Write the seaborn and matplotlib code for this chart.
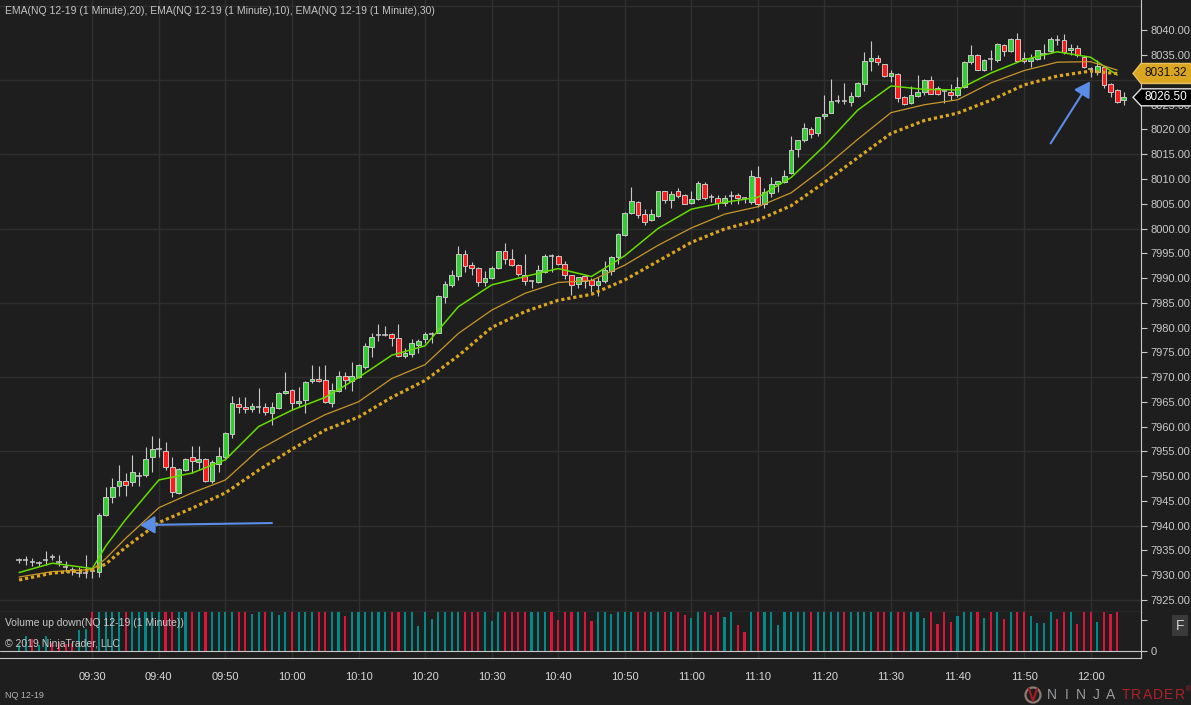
import numpy as np
import matplotlib
matplotlib.use("Agg")
import matplotlib.pyplot as plt
import matplotlib.transforms as mtransforms
from matplotlib.patches import Polygon, Circle
from matplotlib.lines import Line2D
import seaborn as sns

# NQ 12-19, 1 minute bars. x = minutes after 09:30, first bar is 09:19
first_minute = -11

opens = [
    7933.0, 7933.0, 7932.6, 7932.4, 7933.0, 7933.6, 7932.6, 7931.6, 7931.1, 7930.5,
    7930.5, 7930.9, 7930.7, 7942.2, 7945.7, 7947.9, 7948.9, 7948.7, 7950.0, 7950.2,
    7953.8, 7955.5, 7955.1, 7951.9, 7946.5, 7951.2, 7953.8, 7952.8, 7953.4, 7948.9,
    7952.4, 7953.9, 7958.5, 7964.6, 7964.0, 7963.6, 7963.9, 7963.9, 7962.8, 7963.7,
    7966.7, 7967.4, 7964.7, 7965.4, 7969.1, 7969.6, 7969.4, 7964.7, 7967.2, 7970.2,
    7969.1, 7970.1, 7972.1, 7976.1, 7978.5, 7978.4, 7978.7, 7977.8, 7974.2, 7974.6,
    7976.5, 7977.6, 7978.7, 7978.9, 7986.2, 7988.6, 7990.4, 7994.9, 7992.6, 7992.1,
    7989.1, 7990.1, 7992.1, 7995.4, 7993.9, 7992.7, 7990.6, 7989.4, 7989.2, 7991.2,
    7994.5, 7994.5, 7992.9, 7990.6, 7988.8, 7990.4, 7989.6, 7988.5, 7989.4, 7991.5,
    7994.3, 7998.6, 8003.2, 8005.4, 8002.9, 8001.8, 8002.5, 8007.5, 8005.7, 8007.5,
    8006.7, 8005.2, 8006.0, 8008.9, 8006.3, 8006.2, 8005.2, 8006.6, 8006.7, 8006.1,
    8005.4, 8010.5, 8005.0, 8007.2, 8008.9, 8009.4, 8011.2, 8016.1, 8017.8, 8020.2,
    8019.2, 8022.7, 8023.4, 8025.7, 8025.8, 8025.5, 8026.8, 8029.1, 8033.9, 8034.5,
    8033.3, 8030.9, 8031.3, 8026.6, 8025.3, 8026.7, 8027.6, 8030.0, 8028.4, 8027.7,
    8027.6, 8026.9, 8028.6, 8033.6, 8035.0, 8032.1, 8034.2, 8034.1, 8037.1, 8035.8,
    8038.3, 8034.5, 8033.8, 8034.3, 8035.2, 8035.8, 8038.1, 8038.1, 8036.0, 8036.5,
    8034.6, 8032.2, 8031.6, 8032.6, 8029.1, 8028.0, 8025.9]

highs = [
    7933.5, 7933.9, 7933.4, 7932.9, 7934.9, 7934.3, 7934.1, 7932.8, 7931.7, 7931.6,
    7934.1, 7931.1, 7942.5, 7947.7, 7949.6, 7952.2, 7950.6, 7954.3, 7950.9, 7955.9,
    7958.0, 7957.6, 7956.8, 7953.9, 7951.6, 7953.6, 7956.1, 7956.1, 7953.6, 7953.2,
    7955.9, 7958.8, 7966.2, 7966.0, 7965.9, 7964.8, 7967.7, 7964.8, 7965.0, 7966.9,
    7971.1, 7967.5, 7967.9, 7969.1, 7972.4, 7972.2, 7972.4, 7968.7, 7971.3, 7971.0,
    7973.1, 7972.7, 7976.8, 7978.9, 7980.8, 7980.3, 7978.9, 7980.7, 7975.8, 7977.6,
    7977.6, 7979.1, 7979.1, 7986.6, 7989.4, 7991.6, 7996.4, 7995.7, 7993.3, 7992.2,
    7991.4, 7992.4, 7995.5, 7997.1, 7995.9, 7992.9, 7994.8, 7989.5, 7992.6, 7994.8,
    7994.8, 7994.6, 7993.4, 7990.7, 7990.3, 7990.5, 7990.1, 7990.2, 7993.4, 7994.4,
    7999.0, 8003.3, 8008.4, 8005.6, 8004.0, 8004.0, 8007.6, 8007.6, 8007.5, 8008.1,
    8006.9, 8007.5, 8009.6, 8009.4, 8007.0, 8006.8, 8006.7, 8007.6, 8007.1, 8006.3,
    8011.9, 8012.6, 8008.1, 8010.4, 8009.6, 8011.9, 8018.6, 8017.8, 8021.4, 8020.5,
    8022.6, 8026.9, 8030.3, 8026.9, 8029.4, 8027.6, 8029.6, 8035.6, 8037.8, 8035.0,
    8033.3, 8032.1, 8031.4, 8026.7, 8028.7, 8031.1, 8030.2, 8030.9, 8028.7, 8027.9,
    8029.2, 8030.6, 8033.8, 8037.0, 8035.3, 8034.3, 8036.1, 8037.4, 8037.3, 8038.5,
    8039.5, 8035.6, 8035.2, 8036.1, 8037.2, 8038.7, 8039.0, 8039.3, 8037.3, 8037.0,
    8034.8, 8032.7, 8034.1, 8032.7, 8029.4, 8028.2, 8027.6]

lows = [
    7932.4, 7932.1, 7931.8, 7931.9, 7932.1, 7933.1, 7931.9, 7930.7, 7930.1, 7929.7,
    7929.4, 7929.4, 7929.5, 7942.0, 7944.5, 7945.9, 7946.0, 7947.9, 7947.9, 7949.8,
    7950.9, 7953.9, 7951.2, 7945.7, 7946.3, 7951.0, 7950.6, 7951.2, 7948.7, 7948.5,
    7950.9, 7953.2, 7957.6, 7962.8, 7962.7, 7963.0, 7962.7, 7962.3, 7960.3, 7963.5,
    7966.6, 7963.3, 7963.9, 7962.8, 7968.7, 7969.0, 7964.7, 7964.0, 7967.0, 7967.5,
    7967.2, 7969.9, 7971.7, 7974.1, 7977.3, 7978.3, 7976.3, 7974.1, 7973.8, 7974.1,
    7974.8, 7976.8, 7976.8, 7978.8, 7984.9, 7988.2, 7989.6, 7991.2, 7990.6, 7988.4,
    7988.4, 7989.8, 7991.9, 7992.9, 7992.4, 7990.4, 7988.6, 7987.9, 7989.0, 7991.0,
    7991.2, 7992.6, 7989.9, 7986.5, 7987.9, 7987.9, 7987.2, 7986.3, 7988.9, 7990.6,
    7992.9, 7998.4, 8003.0, 8002.1, 8000.7, 8001.6, 8002.3, 8005.2, 8004.2, 8006.2,
    8005.0, 8005.0, 8005.8, 8005.7, 8005.4, 8004.0, 8004.6, 8005.0, 8005.0, 8005.2,
    8005.0, 8004.4, 8004.2, 8006.3, 8007.4, 8009.2, 8011.1, 8014.4, 8017.5, 8018.3,
    8018.6, 8022.2, 8023.4, 8025.3, 8025.2, 8024.7, 8026.6, 8027.8, 8031.9, 8033.0,
    8030.6, 8029.6, 8025.5, 8024.9, 8025.1, 8026.6, 8026.9, 8027.1, 8026.9, 8025.3,
    8025.9, 8026.6, 8028.3, 8033.3, 8032.1, 8031.8, 8032.1, 8033.6, 8034.8, 8035.6,
    8033.6, 8033.4, 8032.6, 8034.1, 8034.3, 8035.6, 8037.0, 8035.3, 8035.0, 8034.6,
    8032.5, 8030.6, 8031.0, 8028.4, 8026.5, 8025.3, 8024.9]

closes = [
    7933.1, 7933.1, 7932.5, 7932.5, 7933.1, 7933.5, 7932.5, 7931.5, 7931.0, 7930.6,
    7930.6, 7930.7, 7942.2, 7945.7, 7947.7, 7949.0, 7948.1, 7950.8, 7950.1, 7953.4,
    7955.4, 7955.6, 7951.8, 7946.8, 7951.4, 7953.4, 7953.0, 7953.4, 7948.9, 7952.9,
    7954.1, 7958.6, 7964.7, 7964.0, 7963.5, 7964.1, 7964.0, 7963.0, 7964.0, 7966.7,
    7967.2, 7964.7, 7965.2, 7968.9, 7969.5, 7969.1, 7964.9, 7967.4, 7970.2, 7969.3,
    7970.2, 7972.4, 7976.3, 7978.0, 7978.6, 7978.5, 7977.8, 7974.2, 7974.8, 7976.8,
    7977.3, 7978.7, 7978.9, 7986.3, 7988.8, 7990.6, 7994.8, 7992.5, 7992.1, 7989.1,
    7990.1, 7992.1, 7995.4, 7993.8, 7992.7, 7990.8, 7989.4, 7989.5, 7991.6, 7994.5,
    7994.4, 7992.9, 7990.6, 7988.5, 7990.2, 7989.4, 7988.5, 7989.4, 7991.6, 7994.3,
    7998.8, 8003.2, 8005.6, 8002.8, 8001.3, 8002.9, 8007.5, 8005.7, 8007.0, 8006.5,
    8005.0, 8006.0, 8009.2, 8006.2, 8006.2, 8005.2, 8006.2, 8006.7, 8006.2, 8006.0,
    8010.7, 8005.0, 8007.3, 8008.9, 8009.6, 8010.6, 8015.9, 8017.8, 8020.4, 8019.0,
    8022.5, 8023.2, 8025.7, 8025.8, 8025.7, 8026.8, 8029.4, 8033.8, 8034.5, 8033.6,
    8030.8, 8031.4, 8026.4, 8025.2, 8026.9, 8027.6, 8030.0, 8027.2, 8027.1, 8027.6,
    8026.9, 8028.6, 8033.6, 8035.0, 8032.1, 8034.1, 8034.1, 8037.3, 8035.8, 8038.3,
    8033.8, 8033.8, 8034.4, 8036.0, 8035.3, 8038.3, 8038.0, 8035.6, 8036.5, 8035.0,
    8032.6, 8032.1, 8032.9, 8028.9, 8027.6, 8025.5, 8026.5]

# volume, many bars run off the top of the small panel
volumes = [
    154, 385, 308, 154, 385, 205, 230, 180, 205, 538,
    564, 1600, 1600, 1600, 1600, 1600, 1600, 1600, 1600, 1600,
    1600, 1600, 1600, 1600, 1600, 1600, 1600, 1600, 1600, 1600,
    1600, 1600, 1600, 1600, 1600, 949, 1600, 1600, 1600, 923,
    1600, 1600, 1600, 1600, 1600, 1600, 1600, 1600, 1600, 897,
    1600, 1600, 1600, 1600, 1600, 1600, 1600, 1600, 1600, 1600,
    641, 1600, 821, 1600, 1600, 1600, 1600, 1600, 1600, 1600,
    1600, 769, 1600, 1600, 1600, 1600, 1600, 1600, 1600, 1600,
    1600, 795, 1600, 1600, 1600, 1600, 769, 1600, 1600, 949,
    1600, 1600, 1600, 1600, 1600, 1600, 1600, 1600, 1600, 1600,
    923, 846, 1600, 1600, 923, 1600, 872, 1600, 667, 487,
    1600, 1600, 1600, 1600, 667, 1600, 1600, 1600, 1600, 1600,
    1600, 1600, 1600, 1600, 1600, 1600, 1600, 1600, 1600, 1600,
    1600, 1600, 1600, 1600, 1600, 1600, 838, 1600, 692, 1600,
    736, 897, 1600, 1600, 1600, 838, 1600, 1600, 812, 1600,
    1600, 1600, 897, 710, 710, 1600, 812, 1600, 1600, 692,
    1600, 1600, 736, 1600, 949, 1600, 0]

# moving averages
ema_minutes = [-11, -6, 0, 2, 5, 10, 15, 20, 25, 30, 35, 40, 45, 50, 55, 60, 65, 70,
               75, 80, 85, 90, 95, 100, 105, 110, 115, 120, 125, 130, 135, 140,
               145, 150, 154]
ema10 = [7930.5, 7932.4, 7931.3, 7935.8, 7941.2, 7949.2, 7950.6, 7953.3, 7960.0,
         7963.3, 7965.9, 7969.9, 7974.4, 7976.3, 7984.2, 7988.6, 7990.3, 7991.9,
         7990.3, 7994.5, 8000.0, 8003.9, 8005.3, 8006.3, 8010.3, 8016.7, 8023.9,
         8028.8, 8028.1, 8028.0, 8031.4, 8034.1, 8035.7, 8034.6, 8031.0]
ema20 = [7929.6, 7930.7, 7931.1, 7933.3, 7937.4, 7943.6, 7946.6, 7949.2, 7955.3,
         7959.0, 7962.4, 7965.0, 7969.7, 7972.5, 7978.8, 7983.5, 7986.9, 7989.1,
         7989.5, 7992.6, 7996.6, 8000.1, 8002.9, 8004.4, 8007.2, 8012.3, 8018.0,
         8023.4, 8025.0, 8026.0, 8029.4, 8031.9, 8033.6, 8033.7, 8032.0]
ema30 = [7929.0, 7930.4, 7931.0, 7932.2, 7935.6, 7940.6, 7943.5, 7946.6, 7951.2,
         7955.4, 7959.3, 7961.9, 7965.9, 7969.3, 7974.3, 7980.0, 7983.2, 7985.5,
         7986.7, 7989.6, 7993.4, 7997.2, 7999.9, 8001.7, 8004.6, 8009.3, 8014.3,
         8019.2, 8021.8, 8023.3, 8025.9, 8029.0, 8030.8, 8031.8, 8031.3]

time_ticks = [0, 10, 20, 30, 40, 50, 60, 70, 80, 90, 100, 110, 120, 130, 140, 150]
time_labels = ['09:30', '09:40', '09:50', '10:00', '10:10', '10:20', '10:30', '10:40',
               '10:50', '11:00', '11:10', '11:20', '11:30', '11:40', '11:50', '12:00']
price_ticks = list(range(7925, 8041, 5))
grid_prices = list(range(7925, 8046, 15))

last_ema30 = 8031.32
last_close = 8026.50

W, H = 1191, 705
BG = '#1e1e1e'
GRID = '#2f2f2f'
FG = '#c8c8c8'
UP, DOWN = '#32cd32', '#ff1a1a'
VUP, VDOWN = '#008b8b', '#dc143c'

sns.set_theme(style='dark', rc={'axes.facecolor': BG, 'figure.facecolor': BG,
                                'axes.edgecolor': FG, 'text.color': FG,
                                'xtick.color': FG, 'ytick.color': FG})
plt.rcParams['font.family'] = ['Liberation Sans', 'DejaVu Sans']

o = np.array(opens)
h = np.array(highs)
l = np.array(lows)
c = np.array(closes)
minutes = np.arange(first_minute, first_minute + len(o))

fig = plt.figure(figsize=(W / 100, H / 100), dpi=100)
ax = fig.add_axes([0, 1 - 612 / H, 1140.5 / W, 612 / H])
axv = fig.add_axes([0, 1 - 658 / H, 1140.5 / W, 46 / H])

xlo, xhi = -13.87, 157.5
for a in (ax, axv):
    a.set_xlim(xlo, xhi)
    for t in time_ticks:
        a.axvline(t, color=GRID, lw=1, zorder=0)
    a.spines['top'].set_visible(False)
    a.spines['left'].set_visible(False)
    a.spines['right'].set_color(FG)
    a.spines['bottom'].set_color(FG)
    a.spines['right'].set_linewidth(0.8)
    a.spines['bottom'].set_linewidth(0.8)
    a.yaxis.tick_right()

ax.set_ylim(7922.53, 8046.16)
for p in grid_prices:
    ax.axhline(p, color=GRID, lw=1, zorder=0)

# candles
ax.vlines(minutes, l, h, color=FG, lw=0.8, zorder=2)
doji = np.abs(c - o) < 0.25
body = ~doji
ax.bar(minutes[body], (c - o)[body], bottom=o[body], width=0.72,
       color=np.where(c > o, UP, DOWN)[body], edgecolor=FG, linewidth=0.7, zorder=3)
ax.hlines(o[doji], minutes[doji] - 0.4, minutes[doji] + 0.4, color=FG, lw=1.1, zorder=3)

# moving averages
sns.lineplot(x=ema_minutes, y=ema10, ax=ax, color='#66dd00', lw=1.1, zorder=5)
sns.lineplot(x=ema_minutes, y=ema20, ax=ax, color='#c8962a', lw=0.9, zorder=5)
sns.lineplot(x=ema_minutes, y=ema30, ax=ax, color='#daa520', lw=2.3,
             linestyle=(0, (1, 0.9)), dash_capstyle='butt', zorder=5)

# the 8030 label sits under the EMA flag, as on the original
ax.set_yticks(price_ticks)
ax.set_yticklabels(['' if p == 8030 else f'{p:.2f}' for p in price_ticks])
ax.tick_params(axis='y', labelsize=8, length=4, width=0.8, pad=3.2, colors=FG)
ax.tick_params(axis='x', bottom=False, labelbottom=False)
ax.set_xlabel('')
ax.set_ylabel('')

# volume panel
vol_colors = np.where(c >= o, VUP, VDOWN)
axv.bar(minutes, volumes, width=0.32, color=vol_colors, linewidth=0, zorder=2)
axv.set_ylim(-179.5, 1000)
axv.axhline(0, color=FG, lw=0.8, zorder=3)
axv.set_yticks([0, 800])
axv.set_yticklabels(['0', ''])
axv.tick_params(axis='y', labelsize=8, length=4, width=0.8, pad=3.2, colors=FG)
axv.set_xticks(time_ticks)
axv.set_xticklabels(time_labels)
axv.tick_params(axis='x', labelsize=8, length=4, width=0.8, pad=6, colors=FG,
                labelcolor='#d8d8d8')

# price flags on the right axis
ppu = ax.bbox.height / (8046.16 - 7922.53)
trans = mtransforms.blended_transform_factory(mtransforms.IdentityTransform(), ax.transData)


def price_flag(value, face, edge, txt_color, half_px):
    hh = half_px / ppu
    pts = [(1133, value), (1141, value + hh), (1192, value + hh),
           (1192, value - hh), (1141, value - hh)]
    ax.add_patch(Polygon(pts, closed=True, transform=trans, facecolor=face,
                         edgecolor=edge, lw=1, clip_on=False, zorder=10))
    ax.text(1166, value, f'{value:.2f}', transform=trans, ha='center', va='center',
            fontsize=8.5, color=txt_color, clip_on=False, zorder=11)


price_flag(last_ema30, '#daa520', '#e8c060', '#111111', 10)
price_flag(last_close, '#000000', '#e0e0e0', '#ffffff', 8.5)

# annotation arrows
arrow = dict(arrowstyle='-|>,head_length=0.75,head_width=0.45', color='#5b8de6',
             lw=1.5, mutation_scale=12, shrinkA=0, shrinkB=0)
ax.annotate('', xy=(7.17, 7940.1), xytext=(27.0, 7940.5), arrowprops=arrow, zorder=7)
ax.annotate('', xy=(149.9, 8029.7), xytext=(144.0, 8017.2), arrowprops=arrow, zorder=7)

# texts
fig.text(5 / W, 1 - 11 / H,
         'EMA(NQ 12-19 (1 Minute),20), EMA(NQ 12-19 (1 Minute),10), EMA(NQ 12-19 (1 Minute),30)',
         fontsize=7.5, color='#c4c4c4', va='center')
fig.text(5 / W, 1 - 623 / H, 'Volume up down(NQ 12-19 (1 Minute))', fontsize=7.5,
         color=FG, va='center')
fig.text(5 / W, 1 - 644 / H, '\u00a9 2019 NinjaTrader, LLC', fontsize=7.5,
         color=FG, va='center')
fig.text(5 / W, 1 - 696 / H, 'NQ 12-19', fontsize=6.5, color='#b4b4b4', va='center')
fig.text(1180 / W, 1 - 625.5 / H, 'F', fontsize=10, color='#d0d0d0', ha='center',
         va='center', bbox=dict(boxstyle='square,pad=0.25', fc='#3a3a3a', ec='none'))

# logo
ident = mtransforms.IdentityTransform()
fig.add_artist(Circle((1033, H - 695), 7.5, transform=ident, fill=False,
                      edgecolor='#8c7d74', lw=1.6))
fig.add_artist(Line2D([1029, 1033, 1037], [H - 689, H - 701, H - 689], transform=ident,
                      color='#a01c24', lw=1.6))
for i, ch in enumerate('NINJA'):
    fig.text((1052 + 14.6 * i) / W, 1 - 695 / H, ch, fontsize=10, color='#9a9a9a',
             ha='center', va='center')
for i, ch in enumerate('TRADER'):
    fig.text((1125.5 + 10.8 * i) / W, 1 - 695 / H, ch, fontsize=10, color='#b0202a',
             ha='center', va='center')
fig.text(1188 / W, 1 - 690 / H, '\u00ae', fontsize=5, color='#b0202a', ha='center',
         va='center')

fig.savefig('out.png', dpi=100, facecolor=BG)
